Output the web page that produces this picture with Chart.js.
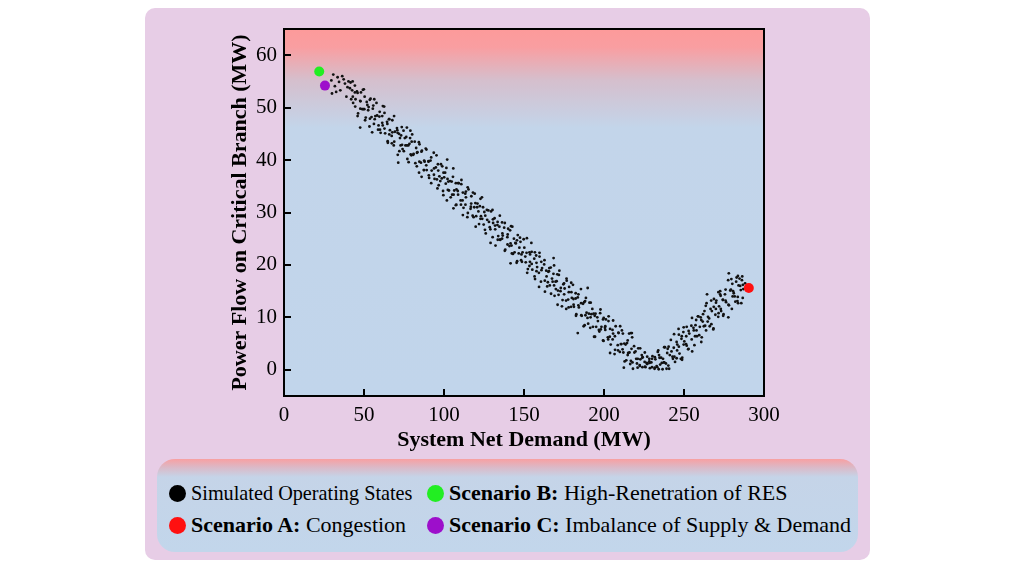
<!DOCTYPE html>
<html>
<head>
<meta charset="utf-8">
<title>Power Flow vs Net Demand</title>
<script src="https://cdn.jsdelivr.net/npm/chart.js@4.4.1/dist/chart.umd.min.js"></script>
<style>
  html, body { margin: 0; padding: 0; background: #ffffff; }
  body { width: 1015px; height: 569px; position: relative; overflow: hidden; font-family: 'Liberation Serif', 'Times New Roman', serif; }
  #panel { position: absolute; left: 145px; top: 8px; width: 725px; height: 552px; background: #e7cde6; border-radius: 10px; }
  #chartBox { position: absolute; left: 0; top: 0; width: 725px; height: 448px; }
  #legend {
    position: absolute; left: 12px; top: 451px; width: 701px; height: 93px;
    border-radius: 18px; box-sizing: border-box; padding: 22px 0 0 12px;
    background: linear-gradient(to bottom, #f8a0a2 0px, #dcb8c6 8px, #c5d4e8 18px, #c2d6eb 100%);
    display: grid; grid-template-columns: 258px auto; grid-auto-rows: 24px; row-gap: 8px;
  }
  .item { display: flex; align-items: center; font-size: 22px; color: #000; white-space: nowrap; }
  .item .txt { display: inline-block; transform-origin: left center; }
  .dot { width: 17px; height: 17px; border-radius: 50%; margin-right: 5px; flex: none; }
</style>
</head>
<body>
<div id="panel">
  <div id="chartBox"><canvas id="flowChart"></canvas></div>
  <div id="legend"></div>
</div>
<script>
// Chart data

const xTickValues = [0, 50, 100, 150, 200, 250, 300];
const yTickValues = [0, 10, 20, 30, 40, 50, 60];

// simulated operating states: [net demand MW, branch flow MW]
const operatingStates = [
  [29.6,55.2],[31.8,54.1],[33.5,55.8],[35.2,53.3],[36.4,56.0],[38.1,54.6],[39.0,52.1],[40.3,55.0],[41.2,53.7],[42.0,51.6],
  [42.6,53.3],[43.2,50.9],[44.3,54.2],[44.7,51.6],[45.6,53.1],[46.3,48.9],[47.6,51.3],[48.1,52.9],[48.9,49.7],[49.9,53.5],
  [50.2,49.7],[51.1,48.1],[51.7,51.1],[52.9,50.1],[53.4,46.4],[54.1,51.7],[54.7,48.2],[55.8,50.4],[56.2,46.9],[57.1,48.4],
  [57.8,50.9],[59.1,46.6],[59.6,48.3],[60.4,45.2],[61.4,48.4],[61.7,46.6],[62.6,50.2],[63.2,45.1],[64.4,47.3],[64.9,43.3],
  [65.6,47.8],[66.2,45.7],[67.3,44.6],[67.7,47.6],[68.6,42.8],[69.3,45.4],[70.6,46.1],[71.1,41.0],[71.9,45.0],[72.9,42.8],
  [73.2,44.7],[74.1,42.1],[74.7,45.6],[75.9,42.8],[76.4,44.4],[77.1,40.2],[77.7,42.8],[78.8,44.2],[79.2,41.1],[80.1,44.9],
  [80.8,41.0],[82.1,39.4],[82.6,42.3],[83.4,41.5],[84.4,37.6],[84.7,43.0],[85.6,39.5],[86.2,41.8],[87.4,38.1],[87.9,39.7],
  [88.6,42.2],[89.2,38.1],[90.3,39.7],[90.7,36.6],[91.6,39.9],[92.3,38.0],[93.6,41.4],[94.1,36.4],[94.9,38.6],[95.9,34.6],
  [96.2,39.2],[97.1,36.9],[97.7,36.0],[98.9,38.8],[99.4,34.1],[100.1,36.7],[100.7,37.6],[101.8,32.3],[102.2,36.4],[103.1,34.2],
  [103.8,36.0],[105.1,33.4],[105.6,36.8],[106.4,34.2],[107.4,35.6],[107.7,31.5],[108.6,34.1],[109.2,35.6],[110.4,32.3],[110.9,36.2],
  [111.6,32.3],[112.2,30.9],[113.3,33.6],[113.7,32.9],[114.6,29.1],[115.3,34.4],[116.6,30.7],[117.1,33.1],[117.9,29.4],[118.9,31.0],
  [119.2,33.6],[120.1,29.3],[120.7,31.0],[121.9,27.8],[122.4,31.2],[123.1,29.3],[123.7,32.9],[124.8,27.7],[125.2,30.1],[126.1,26.0],
  [126.8,30.5],[128.1,28.2],[128.6,27.2],[129.4,30.2],[130.4,25.3],[130.7,28.0],[131.6,28.9],[132.2,23.7],[133.4,27.6],[133.9,25.5],
  [134.6,27.3],[135.2,24.8],[136.3,28.1],[136.7,25.6],[137.6,27.1],[138.3,22.9],[139.6,25.3],[140.1,26.9],[140.9,23.6],[141.9,27.4],
  [142.2,23.7],[143.1,22.1],[143.7,25.0],[144.9,24.1],[145.4,20.4],[146.1,25.7],[146.7,22.2],[147.8,24.4],[148.2,20.9],[149.1,22.4],
  [149.8,24.9],[151.1,20.5],[151.6,22.3],[152.4,19.2],[153.4,22.4],[153.7,20.6],[154.6,24.2],[155.2,19.1],[156.4,21.2],[156.9,17.3],
  [157.6,21.8],[158.2,19.6],[159.3,18.5],[159.7,21.6],[160.6,16.8],[161.3,19.4],[162.6,20.1],[163.1,14.9],[163.9,18.9],[164.9,16.7],
  [165.2,18.7],[166.1,16.1],[166.7,19.5],[167.9,16.8],[168.4,18.3],[169.1,14.1],[169.7,16.8],[170.8,18.2],[171.2,15.1],[172.1,18.9],
  [172.8,15.0],[174.1,13.3],[174.6,16.3],[175.4,15.5],[176.4,11.6],[176.7,17.0],[177.6,13.4],[178.2,15.8],[179.4,12.0],[179.9,13.7],
  [180.6,16.2],[181.2,12.0],[182.3,13.6],[182.7,10.6],[183.6,13.8],[184.3,11.9],[185.6,15.4],[186.1,10.3],[186.9,12.6],[187.9,8.5],
  [188.2,13.1],[189.1,10.9],[189.7,9.9],[190.9,12.8],[191.4,8.0],[192.1,10.6],[192.7,11.6],[193.8,6.3],[194.2,10.3],[195.1,8.2],
  [195.8,10.0],[197.1,7.3],[197.6,10.8],[198.4,8.2],[199.4,9.6],[199.7,5.5],[200.6,8.0],[201.2,9.6],[202.4,6.2],[202.9,10.2],
  [203.6,6.3],[204.2,4.8],[205.3,7.6],[205.7,6.9],[206.6,3.0],[207.3,8.3],[208.6,4.7],[209.1,7.0],[209.9,3.4],[210.9,4.9],
  [211.2,7.5],[212.1,3.3],[212.7,5.0],[213.9,1.8],[214.4,5.1],[215.1,3.2],[215.7,6.9],[216.8,1.7],[217.2,4.0],[218.1,0.2],
  [218.8,4.5],[220.1,2.1],[220.6,1.2],[221.4,4.1],[222.4,0.7],[222.7,2.0],[223.6,2.8],[224.2,2.4],[225.4,1.5],[225.9,0.5],
  [226.6,1.3],[227.2,1.2],[228.3,2.1],[228.7,0.3],[229.6,1.4],[230.3,2.6],[231.6,0.2],[232.1,2.0],[232.9,0.7],[233.9,3.7],
  [234.2,0.1],[235.1,1.0],[235.7,2.3],[236.9,2.1],[237.4,1.4],[238.1,4.3],[238.7,1.2],[239.8,4.0],[240.2,0.8],[241.1,2.8],
  [241.8,5.7],[243.1,2.1],[243.6,4.2],[244.4,1.5],[245.4,5.3],[245.7,3.7],[246.6,7.8],[247.2,3.1],[248.4,5.9],[248.9,2.3],
  [249.6,7.2],[250.2,5.4],[251.3,4.9],[251.7,8.2],[252.6,3.9],[253.3,6.9],[254.6,8.4],[255.1,3.5],[255.9,8.0],[256.9,6.4],
  [257.2,8.5],[258.1,6.4],[258.7,10.2],[259.9,8.2],[260.4,10.0],[261.1,6.2],[261.7,9.2],[262.8,11.2],[263.2,8.4],[264.1,12.7],
  [264.8,9.2],[266.1,8.3],[266.6,11.6],[267.4,11.2],[268.4,7.9],[268.7,13.5],[269.6,10.5],[270.2,13.2],[271.4,10.1],[271.9,12.1],
  [272.6,15.0],[273.2,11.2],[274.3,13.4],[274.7,10.6],[275.6,14.4],[276.3,12.9],[277.6,17.1],[278.1,12.3],[278.9,15.1],[279.9,11.6],
  [280.2,16.4],[281.1,14.6],[281.7,14.0],[282.9,17.6],[283.4,13.1],[284.1,16.1],[284.7,17.4],[285.8,12.7],[286.2,17.1],[287.1,15.4],
  [278.0,18.4],[286.8,16.2],[288.2,16.5],
  [30.8,56.3],[32.6,53.0],[34.4,54.9],[37.3,55.4],[39.7,53.9],[41.6,54.8],
  [43.0,52.1],[42.9,55.0],[44.5,50.2],[44.3,52.9],[46.0,48.4],[46.0,52.8],[47.8,51.2],[47.7,49.8],[49.3,53.4],[49.6,49.7],
  [50.4,52.1],[50.7,47.6],[52.1,50.5],[52.6,49.5],[53.6,51.5],[53.7,47.9],[55.1,45.3],[55.5,49.8],[56.4,51.6],[56.7,47.8],
  [58.2,48.5],[58.8,45.8],[59.8,49.2],[60.0,45.8],[61.8,50.3],[61.4,47.1],[62.8,46.0],[62.8,49.0],[64.8,43.6],[64.6,46.9],
  [65.8,44.9],[65.8,47.8],[67.7,45.3],[67.4,43.2],[68.8,48.4],[68.9,43.5],[71.0,45.2],[70.8,45.7],[72.1,41.7],[72.5,44.2],
  [73.6,46.3],[73.8,42.9],[74.9,41.7],[75.5,44.2],[76.8,42.8],[76.8,46.2],[77.9,39.6],[78.4,43.1],[79.6,40.9],[79.8,43.5],
  [81.0,41.2],[81.7,43.5],[83.0,38.8],[83.1,41.4],[84.6,39.7],[84.3,43.4],[86.0,36.8],[85.9,41.6],[87.6,39.9],[87.5,38.1],
  [89.0,42.0],[88.9,39.0],[90.5,37.1],[90.3,39.8],[92.0,40.5],[92.0,35.6],[93.8,38.4],[93.7,37.2],[95.3,40.9],[95.6,36.3],
  [96.4,38.0],[96.7,35.2],[98.1,39.2],[98.6,36.5],[99.6,33.3],[99.7,37.6],[101.1,35.5],[101.5,38.5],[102.4,34.3],[102.7,35.9],
  [104.2,32.9],[104.8,35.9],[105.8,38.4],[106.0,33.4],[107.8,34.4],[107.4,31.4],[108.8,35.6],[108.8,33.4],[110.8,35.4],[110.6,31.5],
  [111.8,33.8],[111.8,29.5],[113.7,34.0],[113.4,31.5],[114.8,34.8],[114.9,29.9],[117.0,31.7],[116.8,31.1],[118.1,33.8],[118.5,29.1],
  [119.6,31.8],[119.8,27.3],[120.9,31.7],[121.5,30.2],[122.8,28.8],[122.8,32.6],[123.9,28.8],[124.4,31.0],[125.6,26.7],[125.8,29.4],
  [127.0,28.6],[127.7,30.4],[129.0,26.8],[129.1,24.2],[130.6,28.7],[130.3,30.5],[132.0,26.8],[131.9,27.5],[133.6,24.8],[133.5,28.2],
  [135.0,24.8],[134.9,29.4],[136.5,26.0],[136.3,25.0],[138.0,28.0],[138.0,22.7],[139.8,25.8],[139.7,23.9],[141.3,26.6],[141.6,24.1],
  [142.4,22.2],[142.7,27.3],[144.1,22.4],[144.6,24.2],[145.6,24.7],[145.7,20.7],[147.1,23.3],[147.5,25.2],[148.4,22.0],[148.7,20.6],
  [150.2,23.3],[150.8,21.6],[151.8,25.1],[152.0,18.5],[153.8,22.0],[153.4,19.8],[154.8,22.5],[154.8,20.2],[156.8,22.4],[156.6,17.8],
  [157.8,20.4],[157.8,18.8],[159.7,22.3],[159.4,15.8],[160.8,20.6],[160.9,19.0],[163.0,17.0],[162.8,20.9],[164.1,17.8],[164.5,15.9],
  [165.6,18.8],[165.8,19.4],[166.9,14.5],[167.5,17.4],[168.8,16.1],[168.8,19.9],[169.9,15.4],[170.4,16.9],[171.6,14.3],[171.8,18.1],
  [173.0,15.6],[173.7,12.1],[175.0,16.5],[175.1,14.4],[176.6,17.4],[176.3,13.2],[178.0,14.8],[177.9,11.9],[179.6,14.8],[179.5,16.6],
  [181.0,12.4],[180.9,13.5],[182.5,10.3],[182.3,14.6],[184.0,12.3],[184.0,14.4],[185.8,10.4],[185.7,12.7],[187.3,8.3],[187.6,12.9],
  [188.4,10.4],[188.7,13.7],[190.1,8.8],[190.6,10.7],[191.6,10.0],[191.7,12.8],[193.1,8.2],[193.5,10.7],[194.4,6.3],[194.7,10.7],
  [196.2,9.3],[196.8,7.6],[197.8,11.5],[198.0,7.7],[199.8,9.9],[199.4,5.6],[200.8,8.3],[200.8,7.6],[202.8,9.3],[202.6,5.8],
  [203.8,3.2],[203.8,7.8],[205.7,9.4],[205.4,5.8],[206.8,6.4],[206.9,3.8],[209.0,7.1],[208.8,3.7],[210.1,8.3],[210.5,4.9],
  [211.6,3.9],[211.8,6.9],[212.9,1.6],[213.5,4.8],[214.8,2.8],[214.8,5.6],[215.9,3.3],[216.4,1.1],[217.6,6.2],[217.8,1.4],
  [219.0,3.3],[219.7,3.5],[221.0,0.4],[221.1,2.1],[222.6,4.1],[222.3,0.9],[224.0,0.5],[223.9,2.3],[225.6,0.6],[225.5,3.3],
  [227.0,2.5],[226.9,1.1],[228.5,1.3],[228.3,1.6],[230.0,0.5],[230.0,2.1],[231.8,2.4],[231.7,0.4],[233.3,0.5],[233.6,3.4],
  [234.4,2.8],[234.7,2.3],[236.1,1.3],[236.6,0.1],[237.6,4.3],[237.7,1.4],[239.1,0.2],[239.5,3.2],[240.4,4.4],[240.7,0.2],
  [242.2,3.5],[242.8,2.5],[243.8,6.8],[244.0,2.5],[245.8,4.8],[245.4,2.2],[246.8,6.7],[246.8,4.4],[248.8,1.9],[248.6,6.4],
  [249.8,4.8],[249.8,8.1],[251.7,4.6],[251.4,6.4],[252.8,4.0],[252.9,7.4],[255.0,9.9],[254.8,5.8],[256.1,7.5],[256.5,4.7],
  [257.6,9.5],[257.8,7.5],[258.9,10.2],[259.5,6.6],[260.8,9.5],[260.8,5.3],[261.9,10.6],[262.4,8.3],[263.6,12.2],[263.8,7.5],
  [265.0,10.1],[265.7,9.8],[267.0,13.2],[267.1,8.7],[268.6,12.0],[268.3,7.7],[270.0,12.8],[269.9,11.6],[271.6,10.8],[271.5,14.8],
  [273.0,11.6],[272.9,14.1],[274.5,10.3],[274.3,13.3],[276.0,13.2],[276.0,15.3],[277.8,12.4],[277.7,10.0],[279.3,15.3],[279.6,17.3],
  [280.4,14.0],[280.7,15.0],[282.1,13.0],[282.6,16.8],[283.6,13.9],[283.7,17.9],[285.1,16.0],[285.5,15.2],[286.4,17.8],[286.7,13.7],
  [141.6,20.3],[171.0,12.4],[183.6,7.0],[168.5,21.3],[189.8,15.6],[216.8,7.0],[212.4,0.4],[71.4,39.5],[105.9,30.8],[79.0,45.6],
  [47.6,46.2],[102.0,40.1],[30.0,52.7],[217.4,7.0],[264.4,14.4],[272.6,14.4],[283.8,12.7],[248.0,2.1]
];

const scenarioA = [[290.5, 15.6]];
const scenarioB = [[22.0, 56.9]];
const scenarioC = [[25.6, 54.2]];

const toPoints = (arr) => arr.map(p => ({ x: p[0], y: p[1] }));

// Plot decorations

const plotBackground = {
  id: 'plotBackground',
  beforeDraw(chart) {
    const { ctx, chartArea: a } = chart;
    const g = ctx.createLinearGradient(0, a.top, 0, a.bottom);
    g.addColorStop(0, '#fd9a9a');
    g.addColorStop(0.05, '#f99ea1');
    g.addColorStop(0.14, '#d5bfcd');
    g.addColorStop(0.27, '#c3d5ea');
    g.addColorStop(1, '#c1d5eb');
    ctx.save();
    ctx.fillStyle = g;
    ctx.fillRect(a.left, a.top, a.right - a.left, a.bottom - a.top);
    ctx.restore();
  }
};

const frameAndTicks = {
  id: 'frameAndTicks',
  afterDatasetsDraw(chart) {
    const { ctx, chartArea: a, scales } = chart;
    ctx.save();
    ctx.strokeStyle = '#000';
    ctx.lineWidth = 2;
    ctx.beginPath();
    scales.x.ticks.forEach(t => {
      const px = Math.round(scales.x.getPixelForValue(t.value));
      if (px <= a.left + 1 || px >= a.right - 1) return;
      ctx.moveTo(px, a.bottom);
      ctx.lineTo(px, a.bottom - 7);
    });
    scales.y.ticks.forEach(t => {
      const py = Math.round(scales.y.getPixelForValue(t.value));
      ctx.moveTo(a.left, py);
      ctx.lineTo(a.left + 7, py);
    });
    ctx.stroke();
    ctx.strokeRect(a.left, a.top, a.right - a.left, a.bottom - a.top);
    ctx.restore();
  }
};

const htmlLegend = {
  id: 'htmlLegend',
  afterUpdate(chart) {
    const box = document.getElementById('legend');
    box.innerHTML = '';
    chart.data.datasets.forEach(ds => {
      const item = document.createElement('div');
      item.className = 'item';
      const dot = document.createElement('span');
      dot.className = 'dot';
      dot.style.background = ds.legendColor;
      item.appendChild(dot);
      const txt = document.createElement('span');
      txt.className = 'txt';
      if (ds.legendStretch) txt.style.transform = 'scaleX(' + ds.legendStretch + ')';
      const cut = ds.label.indexOf(':');
      if (cut > 0) {
        const b = document.createElement('b');
        b.textContent = ds.label.slice(0, cut + 1);
        txt.appendChild(b);
        txt.appendChild(document.createTextNode(' ' + ds.label.slice(cut + 2)));
      } else {
        txt.appendChild(document.createTextNode(ds.label));
      }
      item.appendChild(txt);
      box.appendChild(item);
    });
  }
};

// Chart

const axisFont = { family: "'Liberation Serif', 'Times New Roman', serif", size: 21 };
const titleFont = { family: "'Liberation Serif', 'Times New Roman', serif", size: 22, weight: 'bold' };

new Chart(document.getElementById('flowChart'), {
  type: 'scatter',
  data: {
    datasets: [
      {
        label: 'Simulated Operating States',
        data: toPoints(operatingStates),
        backgroundColor: '#111111',
        borderWidth: 0,
        pointRadius: 1.4,
        legendColor: '#000000',
        legendStretch: 0.92,
        order: 1
      },
      {
        label: 'Scenario B: High-Renetration of RES',
        data: toPoints(scenarioB),
        backgroundColor: '#22ee22',
        borderWidth: 0,
        pointRadius: 5,
        legendColor: '#22ee22',
        order: 0
      },
      {
        label: 'Scenario A: Congestion',
        data: toPoints(scenarioA),
        backgroundColor: '#ff1010',
        borderWidth: 0,
        pointRadius: 5,
        legendColor: '#ff1010',
        order: 0
      },
      {
        label: 'Scenario C: Imbalance of Supply & Demand',
        data: toPoints(scenarioC),
        backgroundColor: '#9d0fcb',
        borderWidth: 0,
        pointRadius: 5,
        legendColor: '#9d0fcb',
        order: 0
      }
    ]
  },
  options: {
    responsive: true,
    maintainAspectRatio: false,
    animation: false,
    layout: { padding: { left: 0, right: 106, top: 21, bottom: 0 } },
    plugins: {
      legend: { display: false },
      tooltip: { enabled: false }
    },
    scales: {
      x: {
        type: 'linear',
        min: 0,
        max: 300,
        afterBuildTicks: (s) => { s.ticks = xTickValues.map(v => ({ value: v })); },
        afterFit: (s) => { s.height = 60; },
        grid: { display: false, drawTicks: false },
        border: { display: false },
        ticks: { color: '#000', font: axisFont, padding: 7, maxRotation: 0 },
        title: { display: true, text: 'System Net Demand (MW)', color: '#000', font: titleFont, padding: { top: 0, bottom: 2 } }
      },
      y: {
        type: 'linear',
        min: -5,
        max: 65,
        afterBuildTicks: (s) => { s.ticks = yTickValues.map(v => ({ value: v })); },
        afterFit: (s) => { s.width = 139; },
        grid: { display: false, drawTicks: false },
        border: { display: false },
        ticks: { color: '#000', font: axisFont, padding: 7 },
        title: { display: true, text: 'Power Flow on Critical Branch (MW)', color: '#000', font: titleFont, padding: { top: 82, bottom: 0 } }
      }
    }
  },
  plugins: [plotBackground, frameAndTicks, htmlLegend]
});
</script>
</body>
</html>
